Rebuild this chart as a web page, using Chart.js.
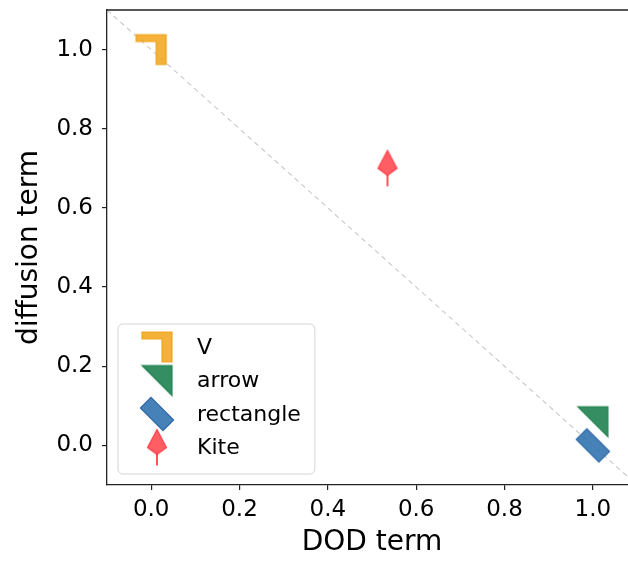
<!DOCTYPE html>
<html>
<head>
<meta charset="utf-8">
<script src="https://cdn.jsdelivr.net/npm/chart.js@4.4.1/dist/chart.umd.min.js"></script>
<style>
  html, body { margin: 0; padding: 0; background: #fff; overflow: hidden; }
  /* the original figure is cropped on the right, so the canvas is a bit wider than the window */
  #wrap { width: 628px; height: 561px; overflow: hidden; }
</style>
</head>
<body>
<div id="wrap"><canvas id="chart" width="642" height="561"></canvas></div>
<script>
// data
const labels = ['V', 'arrow', 'rectangle', 'Kite']
const markerKinds = ['v', 'arrow', 'rect', 'kite']
const dodTerm = [0.0, 1.0, 1.0, 0.535]
const diffusionTerm = [1.0, 0.06, 0.0, 0.70]
const fillColors = ['rgba(242,165,25,0.85)', 'rgba(30,130,80,0.9)', 'rgba(50,115,175,0.9)', 'rgba(255,40,50,0.75)']
const edgeColors = ['rgba(238,160,20,0.9)', 'rgba(30,130,80,0.95)', 'rgba(40,100,165,0.95)', 'rgba(255,40,50,0.8)']
const xTicks = [0.0, 0.2, 0.4, 0.6, 0.8, 1.0]
const yTicks = [0.0, 0.2, 0.4, 0.6, 0.8, 1.0]
const refLineX = [-0.1, 1.1]
const refLineY = [1.1, -0.1]

const FONT = "'DejaVu Sans', sans-serif"

// build one marker glyph on its own little canvas
function makeMarker(kind, fill, edge) {
    const c = document.createElement('canvas')
    c.width = 44
    c.height = 44
    const ctx = c.getContext('2d')
    ctx.translate(22, 22)
    ctx.fillStyle = fill
    ctx.strokeStyle = edge
    ctx.lineWidth = 1.2
    ctx.lineJoin = 'miter'
    ctx.beginPath()
    if (kind === 'v') {
        ctx.moveTo(-15, -15)
        ctx.lineTo(15, -15)
        ctx.lineTo(15, 15)
        ctx.lineTo(5, 15)
        ctx.lineTo(5, -8)
        ctx.lineTo(-15, -8)
        ctx.closePath()
    } else if (kind === 'arrow') {
        ctx.moveTo(-15, -15)
        ctx.lineTo(15, -15)
        ctx.lineTo(15, 15)
        ctx.closePath()
    } else if (kind === 'rect') {
        ctx.rotate(Math.PI / 4)
        ctx.rect(-16, -7.5, 32, 15)
    } else if (kind === 'kite') {
        ctx.moveTo(0, -18)
        ctx.lineTo(-9.5, 0)
        ctx.lineTo(0, 7)
        ctx.lineTo(9.5, 0)
        ctx.closePath()
    }
    ctx.fill()
    ctx.stroke()
    if (kind === 'kite') {
        ctx.beginPath()
        ctx.lineWidth = 2
        ctx.moveTo(0, 6)
        ctx.lineTo(0, 18)
        ctx.stroke()
    }
    return c
}

const markers = markerKinds.map((k, i) => makeMarker(k, fillColors[i], edgeColors[i]))

// small radius so the chart does not reserve overflow room around the plot
const datasets = labels.map((name, i) => ({
    type: 'scatter',
    label: name,
    data: [{ x: dodTerm[i], y: diffusionTerm[i] }],
    pointStyle: markers[i],
    pointRadius: 1,
    borderWidth: 0,
    order: 1
}))
datasets.push({
    type: 'line',
    label: '_ref',
    data: refLineX.map((x, i) => ({ x: x, y: refLineY[i] })),
    borderColor: '#c8c8c8',
    borderWidth: 1.1,
    borderDash: [5, 4],
    pointRadius: 0,
    fill: false,
    order: 2
})

// top frame line + matplotlib-like legend box
const framePlugin = {
    id: 'frame',
    afterDatasetsDraw(chart) {
        const { ctx, chartArea } = chart
        ctx.save()
        ctx.strokeStyle = '#222'
        ctx.lineWidth = 1.3
        ctx.beginPath()
        ctx.moveTo(chartArea.left, chartArea.top)
        ctx.lineTo(chartArea.right, chartArea.top)
        ctx.lineTo(chartArea.right, chartArea.bottom)
        ctx.stroke()

        // legend
        ctx.font = '22px ' + FONT
        const rowH = 33.5
        const textOff = 79
        let maxW = 0
        labels.forEach(l => { maxW = Math.max(maxW, ctx.measureText(l).width) })
        const boxW = textOff + maxW + 14
        const boxH = rowH * labels.length + 16
        const bx = chartArea.left + 11
        const by = chartArea.bottom - 11 - boxH
        ctx.beginPath()
        ctx.roundRect(bx, by, boxW, boxH, 5)
        ctx.fillStyle = 'rgba(255,255,255,0.8)'
        ctx.fill()
        ctx.strokeStyle = '#d4d4d4'
        ctx.lineWidth = 1
        ctx.stroke()
        ctx.fillStyle = '#000'
        ctx.textBaseline = 'middle'
        ctx.textAlign = 'left'
        labels.forEach((l, i) => {
            const cy = by + 23 + i * rowH
            const m = markers[i]
            ctx.drawImage(m, bx + 39 - m.width / 2, cy - m.height / 2)
            ctx.fillText(l, bx + textOff, cy + 1)
        })
        ctx.restore()
    }
}

new Chart(document.getElementById('chart'), {
    data: { datasets: datasets },
    options: {
        responsive: false,
        animation: false,
        devicePixelRatio: 1,
        layout: { padding: { top: 10, right: 5, left: 0, bottom: 0 } },
        plugins: {
            legend: { display: false },
            tooltip: { enabled: false }
        },
        scales: {
            x: {
                type: 'linear',
                min: -0.1,
                max: 1.1,
                afterBuildTicks: s => { s.ticks = xTicks.map(v => ({ value: v })) },
                afterFit: s => {
                    s.height = 76
                    s.paddingLeft = 0
                    s.paddingRight = 0
                },
                grid: { drawOnChartArea: false, drawTicks: true, tickLength: 5, color: '#222', lineWidth: 1.2 },
                border: { display: true, color: '#222', width: 1.3 },
                ticks: {
                    font: { family: FONT, size: 23 },
                    color: '#000',
                    padding: 6,
                    autoSkip: false,
                    maxRotation: 0,
                    callback: v => v.toFixed(1)
                },
                title: { display: true, text: 'DOD term', color: '#000', font: { family: FONT, size: 28 }, padding: { top: 0, bottom: 1 } }
            },
            y: {
                type: 'linear',
                min: -0.1,
                max: 1.1,
                afterBuildTicks: s => { s.ticks = yTicks.map(v => ({ value: v })) },
                afterFit: s => {
                    s.width = 107
                    s.paddingTop = 0
                    s.paddingBottom = 0
                },
                grid: { drawOnChartArea: false, drawTicks: true, tickLength: 5, color: '#222', lineWidth: 1.2 },
                border: { display: true, color: '#222', width: 1.3 },
                ticks: {
                    font: { family: FONT, size: 23 },
                    color: '#000',
                    padding: 9,
                    autoSkip: false,
                    callback: v => v.toFixed(1)
                },
                title: { display: true, text: 'diffusion term', color: '#000', font: { family: FONT, size: 28 }, padding: { top: 13, bottom: 0 } }
            }
        }
    },
    plugins: [framePlugin]
})
</script>
</body>
</html>
